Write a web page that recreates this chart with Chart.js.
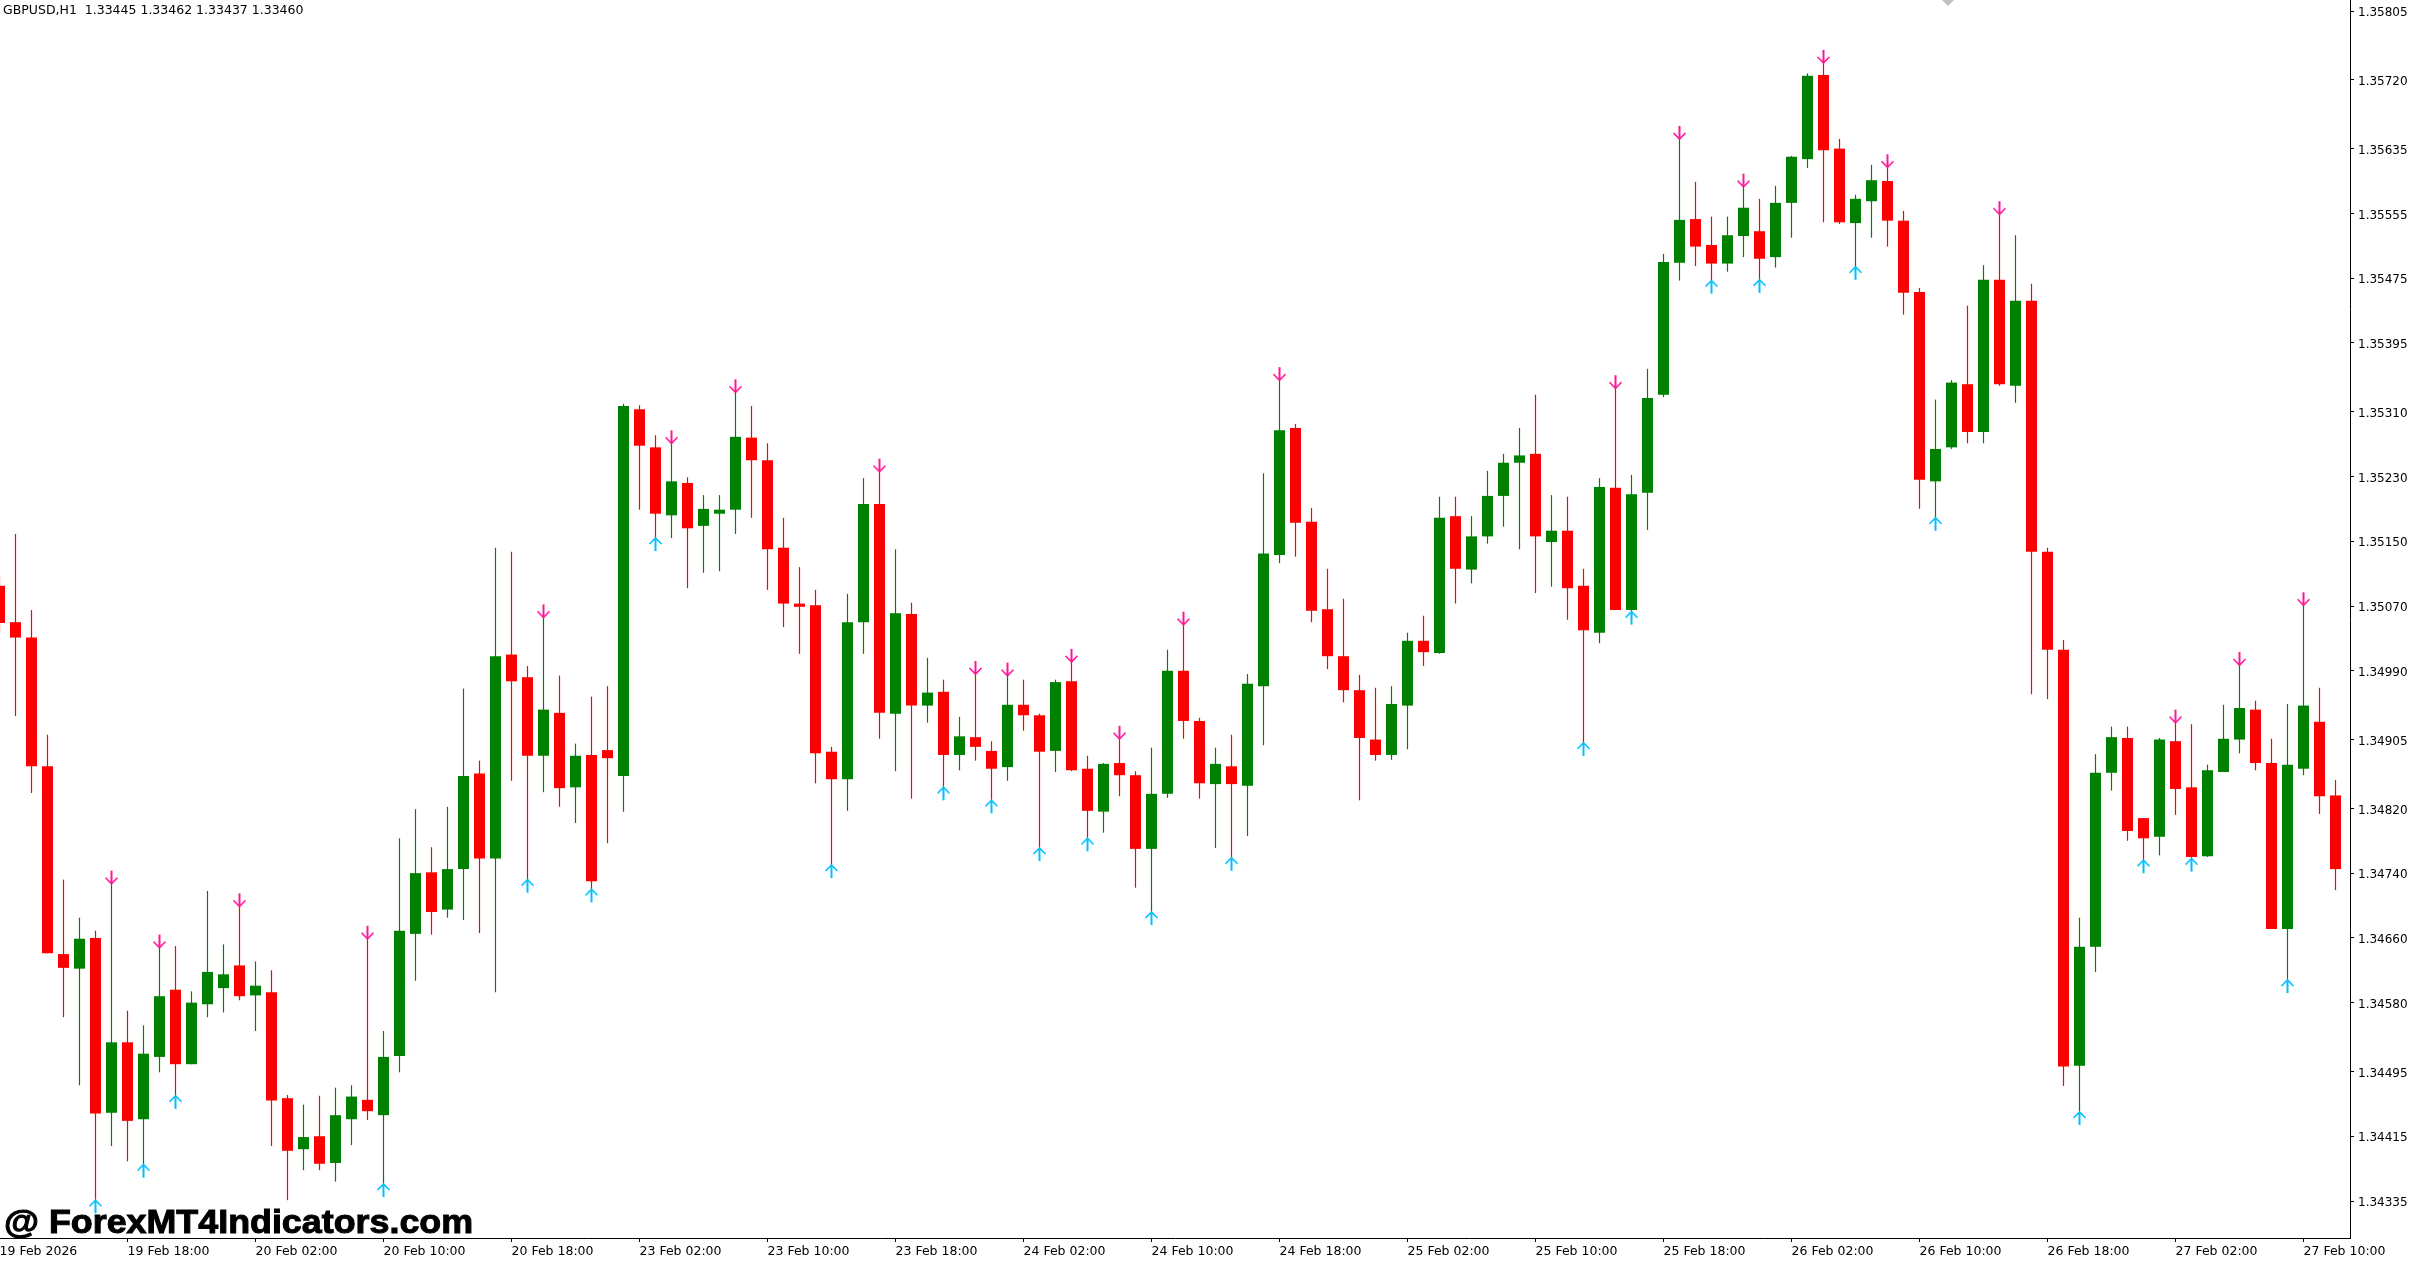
<!DOCTYPE html>
<html>
<head>
<meta charset="utf-8">
<title>GBPUSD,H1</title>
<script src="https://cdn.jsdelivr.net/npm/chart.js@4"></script>
<style>
    html, body { margin: 0; padding: 0; background: #fff; overflow: hidden; }
    #box { position: relative; width: 2411px; height: 1264px; }
</style>
</head>
<body>
<div id="box"><canvas id="priceChart"></canvas></div>
<script>
// H1 bars
const opens = [
    1.35095, 1.35050, 1.35031, 1.34872, 1.34640, 1.34622, 1.34660, 1.34444, 1.34531, 1.34436,
    1.34513, 1.34596, 1.34504, 1.34578, 1.34598, 1.34626, 1.34589, 1.34593, 1.34462, 1.34399,
    1.34415, 1.34382, 1.34436, 1.34460, 1.34441, 1.34514, 1.34665, 1.34741, 1.34695, 1.34745,
    1.34863, 1.34758, 1.35010, 1.34982, 1.34885, 1.34938, 1.34846, 1.34886, 1.34892, 1.34860,
    1.35313, 1.35266, 1.35182, 1.35222, 1.35169, 1.35184, 1.35189, 1.35278, 1.35250, 1.35142,
    1.35073, 1.35071, 1.34890, 1.34856, 1.35050, 1.35196, 1.34937, 1.35060, 1.34947, 1.34964,
    1.34886, 1.34908, 1.34891, 1.34871, 1.34948, 1.34935, 1.34891, 1.34977, 1.34869, 1.34816,
    1.34876, 1.34861, 1.34770, 1.34838, 1.34990, 1.34928, 1.34850, 1.34872, 1.34848, 1.34971,
    1.35133, 1.35290, 1.35174, 1.35066, 1.35008, 1.34966, 1.34905, 1.34886, 1.34947, 1.35027,
    1.35012, 1.35181, 1.35115, 1.35156, 1.35206, 1.35247, 1.35258, 1.35149, 1.35163, 1.35095,
    1.35037, 1.35216, 1.35065, 1.35210, 1.35331, 1.35494, 1.35548, 1.35516, 1.35493, 1.35527,
    1.35533, 1.35501, 1.35568, 1.35622, 1.35726, 1.35635, 1.35543, 1.35570, 1.35595, 1.35546,
    1.35458, 1.35224, 1.35266, 1.35344, 1.35285, 1.35473, 1.35342, 1.35447, 1.35137, 1.35016,
    1.34502, 1.34649, 1.34864, 1.34907, 1.34808, 1.34785, 1.34903, 1.34846, 1.34761, 1.34865,
    1.34905, 1.34942, 1.34876, 1.34671, 1.34869, 1.34927, 1.34836
];
const closes = [
    1.35049, 1.35031, 1.34872, 1.34641, 1.34623, 1.34659, 1.34443, 1.34531, 1.34434, 1.34517,
    1.34588, 1.34504, 1.34580, 1.34618, 1.34615, 1.34588, 1.34601, 1.34459, 1.34397, 1.34414,
    1.34381, 1.34441, 1.34464, 1.34446, 1.34513, 1.34669, 1.34740, 1.34692, 1.34745, 1.34860,
    1.34758, 1.35008, 1.34977, 1.34885, 1.34942, 1.34845, 1.34885, 1.34730, 1.34882, 1.35317,
    1.35268, 1.35184, 1.35224, 1.35166, 1.35190, 1.35189, 1.35279, 1.35250, 1.35140, 1.35073,
    1.35069, 1.34888, 1.34856, 1.35050, 1.35196, 1.34938, 1.35061, 1.34947, 1.34963, 1.34886,
    1.34909, 1.34896, 1.34869, 1.34948, 1.34935, 1.34890, 1.34976, 1.34867, 1.34817, 1.34875,
    1.34861, 1.34770, 1.34838, 1.34990, 1.34928, 1.34851, 1.34875, 1.34850, 1.34974, 1.35135,
    1.35287, 1.35173, 1.35064, 1.35008, 1.34966, 1.34907, 1.34886, 1.34949, 1.35027, 1.35013,
    1.35179, 1.35116, 1.35156, 1.35206, 1.35247, 1.35256, 1.35156, 1.35163, 1.35092, 1.35040,
    1.35217, 1.35065, 1.35208, 1.35327, 1.35495, 1.35547, 1.35514, 1.35493, 1.35528, 1.35562,
    1.35499, 1.35568, 1.35625, 1.35725, 1.35633, 1.35544, 1.35573, 1.35596, 1.35546, 1.35457,
    1.35226, 1.35264, 1.35346, 1.35285, 1.35473, 1.35344, 1.35447, 1.35137, 1.35016, 1.34501,
    1.34649, 1.34864, 1.34908, 1.34792, 1.34783, 1.34905, 1.34844, 1.34760, 1.34867, 1.34906,
    1.34944, 1.34876, 1.34671, 1.34874, 1.34947, 1.34835, 1.34745
];
const highs = [
    1.35107, 1.35159, 1.35065, 1.34911, 1.34732, 1.34685, 1.34669, 1.34727, 1.34570, 1.34552,
    1.34648, 1.34650, 1.34594, 1.34718, 1.34652, 1.34699, 1.34631, 1.34620, 1.34466, 1.34454,
    1.34465, 1.34475, 1.34478, 1.34659, 1.34545, 1.34783, 1.34819, 1.34772, 1.34822, 1.34968,
    1.34879, 1.35142, 1.35137, 1.34996, 1.35056, 1.34984, 1.34900, 1.34958, 1.34971, 1.35320,
    1.35318, 1.35281, 1.35271, 1.35229, 1.35207, 1.35207, 1.35334, 1.35317, 1.35271, 1.35179,
    1.35118, 1.35090, 1.34896, 1.35085, 1.35228, 1.35236, 1.35140, 1.35074, 1.35006, 1.34979,
    1.34933, 1.34986, 1.34903, 1.34984, 1.34979, 1.34937, 1.34979, 1.35001, 1.34885, 1.34876,
    1.34906, 1.34866, 1.34895, 1.35016, 1.35047, 1.34932, 1.34895, 1.34911, 1.34986, 1.35234,
    1.35349, 1.35295, 1.35191, 1.35116, 1.35079, 1.34985, 1.34969, 1.34971, 1.35037, 1.35058,
    1.35205, 1.35205, 1.35181, 1.35237, 1.35258, 1.35290, 1.35331, 1.35207, 1.35205, 1.35116,
    1.35228, 1.35339, 1.35232, 1.35363, 1.35505, 1.35647, 1.35594, 1.35551, 1.35551, 1.35588,
    1.35573, 1.35589, 1.35626, 1.35728, 1.35741, 1.35647, 1.35578, 1.35615, 1.35612, 1.35558,
    1.35463, 1.35325, 1.35349, 1.35441, 1.35491, 1.35554, 1.35528, 1.35468, 1.35142, 1.35028,
    1.34685, 1.34887, 1.34921, 1.34921, 1.34808, 1.34907, 1.34926, 1.34924, 1.34874, 1.34948,
    1.34997, 1.34953, 1.34906, 1.34949, 1.35071, 1.34969, 1.34855
];
const lows = [
    1.35037, 1.34934, 1.34839, 1.34641, 1.34562, 1.34478, 1.34336, 1.34403, 1.34384, 1.34380,
    1.34494, 1.34465, 1.34504, 1.34562, 1.34568, 1.34583, 1.34545, 1.34403, 1.34336, 1.34373,
    1.34373, 1.34359, 1.34404, 1.34435, 1.34356, 1.34494, 1.34607, 1.34664, 1.34685, 1.34682,
    1.34666, 1.34593, 1.34854, 1.34732, 1.34840, 1.34822, 1.34802, 1.34720, 1.34777, 1.34816,
    1.35189, 1.35154, 1.35154, 1.35092, 1.35111, 1.35113, 1.35159, 1.35179, 1.35090, 1.35044,
    1.35011, 1.34851, 1.34750, 1.34817, 1.35011, 1.34906, 1.34866, 1.34832, 1.34926, 1.34846,
    1.34867, 1.34879, 1.34830, 1.34854, 1.34916, 1.34771, 1.34865, 1.34866, 1.34783, 1.34790,
    1.34835, 1.34722, 1.34692, 1.34833, 1.34906, 1.34832, 1.34771, 1.34759, 1.34786, 1.34898,
    1.35123, 1.35131, 1.35050, 1.34992, 1.34951, 1.34830, 1.34879, 1.34880, 1.34893, 1.34996,
    1.35011, 1.35073, 1.35098, 1.35147, 1.35168, 1.35140, 1.35086, 1.35094, 1.35053, 1.34901,
    1.35024, 1.35065, 1.35063, 1.35164, 1.35328, 1.35472, 1.35490, 1.35472, 1.35483, 1.35501,
    1.35473, 1.35488, 1.35525, 1.35611, 1.35544, 1.35542, 1.35489, 1.35525, 1.35514, 1.35430,
    1.35190, 1.35179, 1.35264, 1.35271, 1.35271, 1.35342, 1.35321, 1.34961, 1.34955, 1.34477,
    1.34445, 1.34618, 1.34842, 1.34780, 1.34756, 1.34762, 1.34812, 1.34758, 1.34760, 1.34865,
    1.34888, 1.34867, 1.34671, 1.34608, 1.34861, 1.34813, 1.34719
];

// bars that carry an indicator arrow
const upArrowBars = [6, 9, 11, 24, 33, 37, 41, 52, 59, 62, 65, 68, 72, 77, 99, 102, 107, 110, 116, 121, 130, 134, 137, 143];
const downArrowBars = [7, 10, 15, 23, 34, 42, 46, 55, 61, 63, 67, 70, 74, 80, 101, 105, 109, 114, 118, 125, 136, 140, 144];

// axis labels
const priceTicks = [
    1.35805, 1.35720, 1.35635, 1.35555, 1.35475, 1.35395, 1.35310, 1.35230, 1.35150, 1.35070,
    1.34990, 1.34905, 1.34820, 1.34740, 1.34660, 1.34580, 1.34495, 1.34415, 1.34335
];
const timeTickBars = [0, 8, 16, 24, 32, 40, 48, 56, 64, 72, 80, 88, 96, 104, 112, 120, 128, 136, 144];
const timeLabels = [
    '19 Feb 2026', '19 Feb 18:00', '20 Feb 02:00', '20 Feb 10:00', '20 Feb 18:00',
    '23 Feb 02:00', '23 Feb 10:00', '23 Feb 18:00', '24 Feb 02:00', '24 Feb 10:00',
    '24 Feb 18:00', '25 Feb 02:00', '25 Feb 10:00', '25 Feb 18:00', '26 Feb 02:00',
    '26 Feb 10:00', '26 Feb 18:00', '27 Feb 02:00', '27 Feb 10:00'
];

const UP_COLOR = '#008000';
const DOWN_COLOR = '#ff0000';

function barColor(context) {
    const i = context.dataIndex;
    return closes[i] >= opens[i] ? UP_COLOR : DOWN_COLOR;
}

// Arrow sprite: the tip sits in the middle of the canvas, so the point lands on the high/low
function makeArrow(color, pointsUp) {
    const c = document.createElement('canvas');
    c.width = 17;
    c.height = 28;
    const g = c.getContext('2d');
    const dir = pointsUp ? 1 : -1;
    const midX = 8.5, midY = 14;
    g.strokeStyle = color;
    g.lineWidth = 2;
    g.beginPath();
    g.moveTo(midX, midY);
    g.lineTo(midX, midY + dir * 13);
    g.stroke();
    g.lineWidth = 1.6;
    g.beginPath();
    g.moveTo(midX - 6, midY + dir * 6);
    g.lineTo(midX, midY);
    g.lineTo(midX + 6, midY + dir * 6);
    g.stroke();
    return c;
}

// Fixed axis sizes, so the plot ends exactly at the terminal's frame
function fixAxis(scale, size) {
    if (scale.isHorizontal()) {
        scale.height = size;
    } else {
        scale.width = size;
    }
    scale.paddingLeft = scale.paddingRight = scale.paddingTop = scale.paddingBottom = 0;
}

const terminalText = {
    id: 'terminalText',
    afterDraw(chart) {
        const ctx = chart.ctx;
        ctx.save();
        ctx.fillStyle = '#000';
        ctx.textBaseline = 'alphabetic';
        ctx.font = '12.5px "DejaVu Sans"';
        ctx.fillText('GBPUSD,H1  1.33445 1.33462 1.33437 1.33460', 3, 14);

        // chart shift marker at the top edge
        ctx.fillStyle = '#c0c0c0';
        ctx.beginPath();
        ctx.moveTo(1942, 0);
        ctx.lineTo(1954, 0);
        ctx.lineTo(1948, 6);
        ctx.closePath();
        ctx.fill();

        // watermark, stretched a little to get the wide heavy look
        ctx.fillStyle = '#000';
        ctx.strokeStyle = '#000';
        ctx.lineWidth = 1;
        ctx.font = 'bold 33px "Liberation Sans"';
        ctx.translate(4, 1233);
        ctx.scale(1.086, 1);
        ctx.fillText('@ ForexMT4Indicators.com', 0, 0);
        ctx.strokeText('@ ForexMT4Indicators.com', 0, 0);
        ctx.restore();
    }
};

const bars = opens.map((o, i) => i);

new Chart(document.getElementById('priceChart'), {
    type: 'bar',
    data: {
        datasets: [
            {
                type: 'scatter',
                label: 'Buy arrows',
                data: upArrowBars.map(i => ({ x: i, y: lows[i] })),
                pointStyle: makeArrow('#00bfff', true),
                pointRadius: 9
            },
            {
                type: 'scatter',
                label: 'Sell arrows',
                data: downArrowBars.map(i => ({ x: i, y: highs[i] })),
                pointStyle: makeArrow('#ff1493', false),
                pointRadius: 9
            },
            {
                label: 'Body',
                data: bars.map(i => ({ x: i, y: [opens[i], closes[i]] })),
                backgroundColor: barColor,
                barThickness: 11,
                grouped: false,
                inflateAmount: 0,
                borderWidth: 0
            },
            {
                label: 'Wick',
                data: bars.map(i => ({ x: i, y: [lows[i], highs[i]] })),
                backgroundColor: barColor,
                barThickness: 1.2,
                grouped: false,
                inflateAmount: 0,
                borderWidth: 0
            }
        ]
    },
    options: {
        responsive: true,
        maintainAspectRatio: false,
        animation: false,
        devicePixelRatio: 1,
        layout: { autoPadding: false, padding: 0 },
        plugins: {
            legend: { display: false },
            tooltip: { enabled: false }
        },
        scales: {
            x: {
                type: 'linear',
                offset: false,
                min: 0.03125,
                max: 146.90625,
                afterBuildTicks: scale => { scale.ticks = timeTickBars.map(v => ({ value: v })); },
                afterFit: scale => fixAxis(scale, 26),
                border: { display: true, color: '#000', width: 1 },
                grid: { offset: false, drawOnChartArea: false, drawTicks: true, tickLength: 4, tickColor: '#000', tickWidth: 1 },
                ticks: {
                    autoSkip: false,
                    maxRotation: 0,
                    minRotation: 0,
                    align: 'start',
                    padding: 2,
                    color: '#000',
                    font: { family: '"DejaVu Sans"', size: 12.5 },
                    callback: value => timeLabels[timeTickBars.indexOf(value)]
                }
            },
            y: {
                type: 'linear',
                position: 'right',
                min: 1.342893,
                max: 1.358186,
                afterBuildTicks: scale => { scale.ticks = priceTicks.map(v => ({ value: v })); },
                afterFit: scale => fixAxis(scale, 61),
                border: { display: true, color: '#000', width: 1 },
                grid: { drawOnChartArea: false, drawTicks: true, tickLength: 4, tickColor: '#000', tickWidth: 1 },
                ticks: {
                    autoSkip: false,
                    padding: 4,
                    labelOffset: 2,
                    color: '#000',
                    font: { family: '"DejaVu Sans"', size: 12 },
                    callback: value => value.toFixed(5)
                }
            }
        }
    },
    plugins: [terminalText]
});
</script>
</body>
</html>
